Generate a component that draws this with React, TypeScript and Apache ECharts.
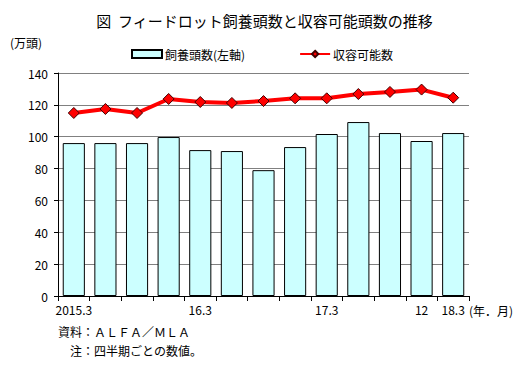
import React, { useEffect, useRef } from "react";
import * as echarts from "echarts";

const categories = ["2015.3", "", "", "", "16.3", "", "", "", "17.3", "", "", "12", "18.3"];
const feedlotHead = [96.0, 96.0, 96.0, 99.8, 91.6, 91.0, 79.0, 93.5, 101.7, 109.2, 102.3, 97.3, 102.3];
const capacity = [114.9, 117.4, 114.9, 123.7, 121.8, 121.2, 122.4, 124.1, 124.1, 126.8, 128.1, 129.6, 124.5];
const yTicks = { min: 0, max: 140, interval: 20 };

const FONT = "'Noto Sans CJK JP', 'Noto Sans', sans-serif";

export default function App() {
  const ref = useRef<HTMLDivElement>(null);
  useEffect(() => {
    if (!ref.current) return;
    const chart = echarts.init(ref.current, undefined, { renderer: "svg" });
    chart.setOption({
      animation: false,
      backgroundColor: "#ffffff",
      textStyle: { fontFamily: FONT, color: "#000" },
      title: {
        text: "図  フィードロット飼養頭数と収容可能頭数の推移",
        left: "center",
        top: 8,
        textStyle: { fontFamily: FONT, fontSize: 15, fontWeight: "normal", color: "#000" },
      },
      legend: {
        top: 43,
        left: 126,
        itemWidth: 30,
        itemHeight: 8,
        itemGap: 54,
        textStyle: { fontFamily: FONT, fontSize: 12, color: "#000", padding: [0, 0, 0, -2] },
        data: [
          { name: "飼養頭数(左軸)", icon: "rect" },
          { name: "収容可能数" },
        ],
      },
      grid: { left: 58, right: 60, top: 73, bottom: 73, containLabel: false },
      xAxis: {
        type: "category",
        data: categories,
        boundaryGap: true,
        axisLine: { lineStyle: { color: "#000", width: 1 } },
        axisTick: { show: true, length: 5, lineStyle: { color: "#000" }, alignWithLabel: false, interval: 0 },
        axisLabel: { interval: 0, color: "#000", fontSize: 12, fontFamily: FONT, margin: 7 },
        splitLine: { show: false },
      },
      yAxis: {
        type: "value",
        min: yTicks.min,
        max: yTicks.max,
        interval: yTicks.interval,
        axisLine: { show: true, lineStyle: { color: "#000", width: 1 } },
        axisTick: { show: true, length: 4, lineStyle: { color: "#000" } },
        axisLabel: { color: "#000", fontSize: 12, fontFamily: FONT, margin: 10 },
        splitLine: { show: true, lineStyle: { color: "#808080", width: 1 } },
      },
      series: [
        {
          name: "飼養頭数(左軸)",
          type: "bar",
          data: feedlotHead,
          barWidth: "70%",
          itemStyle: { color: "#CCFFFF", borderColor: "#000", borderWidth: 1 },
          z: 2,
        },
        {
          name: "収容可能数",
          type: "line",
          data: capacity,
          symbol: "diamond",
          symbolSize: 11,
          lineStyle: { color: "#FF0000", width: 4 },
          itemStyle: { color: "#FF0000", borderColor: "#400000", borderWidth: 1 },
          z: 3,
        },
      ],
      graphic: [
        { type: "text", left: 10, top: 36, style: { text: "(万頭)", fontSize: 12, fontFamily: FONT, fill: "#000" } },
        { type: "text", left: 469, top: 304, style: { text: "(年．月)", fontSize: 12, fontFamily: FONT, fill: "#000" } },
        { type: "text", left: 58, top: 325, style: { text: "資料：ＡＬＦＡ／ＭＬＡ", fontSize: 12, fontFamily: FONT, fill: "#000" } },
        { type: "text", left: 70, top: 344, style: { text: "注：四半期ごとの数値。", fontSize: 12, fontFamily: FONT, fill: "#000" } },
      ],
    });
    return () => chart.dispose();
  }, []);
  return <div ref={ref} style={{ width: 529, height: 369, position: "absolute", left: 0, top: 0 }} />;
}
